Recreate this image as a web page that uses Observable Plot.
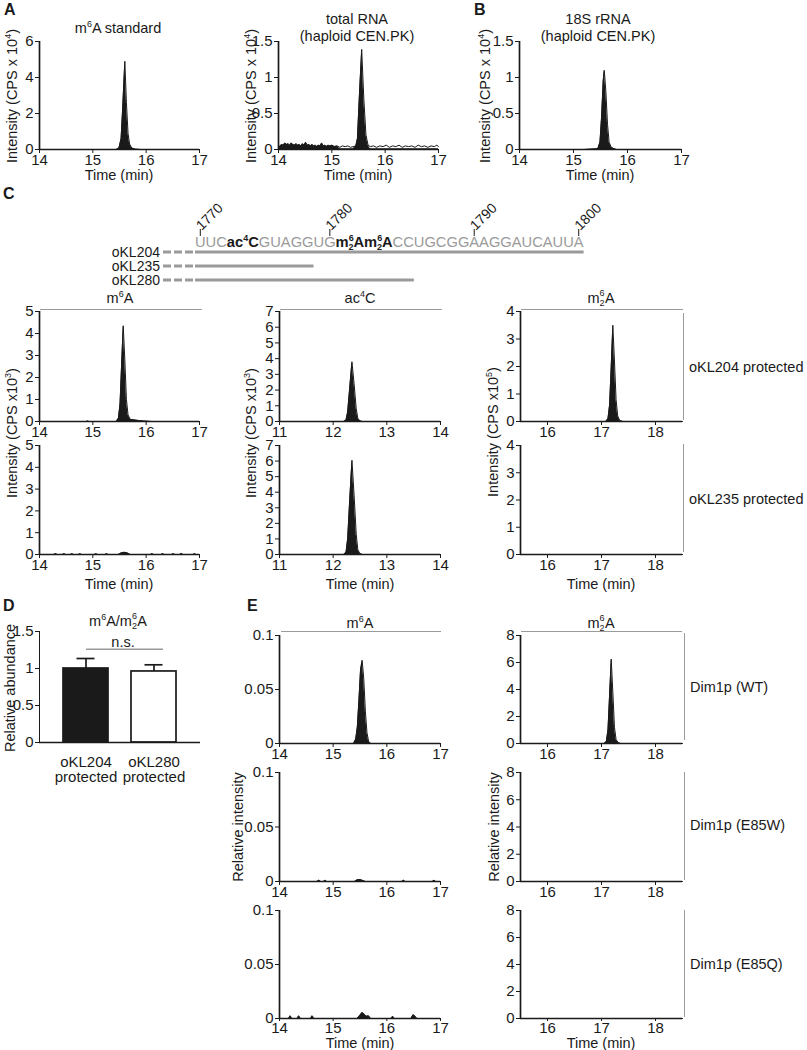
<!DOCTYPE html>
<html><head><meta charset="utf-8">
<script src="https://cdn.jsdelivr.net/npm/d3@7"></script>
<script src="https://cdn.jsdelivr.net/npm/@observablehq/plot@0.6"></script>
<style>
body{margin:0;background:#fff;}
#fig{position:relative;width:807px;height:1050px;overflow:hidden;font-family:"Liberation Sans",Arial,Helvetica,sans-serif;color:#1a1a1a;}
#fig div.o{position:absolute;white-space:nowrap;font-size:14.5px;line-height:1;}
.pl text{font-size:15px;}
.t{transform:translate(-50%,-50%);}
.l{transform:translate(0,-50%);}
.r{transform:translate(-50%,-50%) rotate(-90deg);}
.p{font-weight:bold;font-size:16px !important;}
.hl{position:absolute;height:0;border-top:1.5px solid #9a9a9a;}
.vl{position:absolute;width:0;border-left:1.5px solid #9a9a9a;}
sup{font-size:0.62em;vertical-align:0.6em;line-height:0;}
.stk{display:inline-block;position:relative;width:0.6em;height:0.7em;font-size:0.62em;}
.stk .a{position:absolute;left:0;top:-0.85em;line-height:1;}
.stk .b{position:absolute;left:0;top:0.25em;line-height:1;}
</style></head>
<body><div id="fig"></div>
<script>
// ---------------- data ----------------
// chromatogram traces: [time (min), intensity]
const aStandard = [[14,0],[15.44,0],[15.49,0.08],[15.53,0.6],[15.56,2.3],[15.6,4.9],[15.63,2.6],[15.66,0.9],[15.69,0.3],[15.73,0.08],[15.8,0.02],[15.9,0],[17,0]];
const aTotalRna = [[14.00,0.02],[14.03,0.05],[14.06,0.07],[14.09,0.06],[14.12,0.09],[14.15,0.07],[14.18,0.08],[14.21,0.06],[14.24,0.09],[14.27,0.07],[14.30,0.06],[14.33,0.08],[14.36,0.06],[14.39,0.07],[14.42,0.05],[14.45,0.08],[14.48,0.06],[14.51,0.10],[14.54,0.06],[14.57,0.07],[14.60,0.05],[14.63,0.07],[14.66,0.05],[14.69,0.06],[14.72,0.04],[14.75,0.06],[14.78,0.05],[14.81,0.09],[14.84,0.05],[14.87,0.06],[14.90,0.04],[14.93,0.06],[14.96,0.05],[15.00,0.06],[15.05,0.04],[15.10,0.05],[15.15,0.03],[15.20,0.05],[15.25,0.04],[15.30,0.05],[15.35,0.03],[15.40,0.04],[15.45,0.05],[15.48,0.15],[15.52,0.8],[15.56,1.39],[15.60,0.7],[15.64,0.2],[15.68,0.06],[15.72,0.04],[15.78,0.05],[15.84,0.03],[15.90,0.05],[15.96,0.04],[16.02,0.06],[16.08,0.03],[16.14,0.05],[16.20,0.04],[16.26,0.06],[16.32,0.03],[16.38,0.05],[16.44,0.04],[16.50,0.05],[16.56,0.03],[16.62,0.06],[16.68,0.04],[16.74,0.05],[16.80,0.03],[16.86,0.05],[16.92,0.04],[16.97,0.06],[17.00,0.04]];
const b18S = [[14,0],[15.2,0],[15.45,0.01],[15.49,0.1],[15.52,0.45],[15.55,0.95],[15.57,1.1],[15.6,0.8],[15.63,0.35],[15.66,0.1],[15.7,0.03],[15.75,0.01],[15.8,0],[17,0]];
const cM6A204 = [[14,0],[14.88,0],[14.9,0.02],[14.93,0],[15.44,0],[15.48,0.15],[15.51,0.8],[15.54,2.6],[15.57,4.35],[15.6,2.8],[15.63,1.0],[15.66,0.3],[15.7,0.1],[15.75,0.08],[15.85,0.05],[15.95,0.02],[16.1,0],[17,0]];
const cM6A235 = [[14,0],[14.27,0],[14.3,0.04],[14.33,0],[14.43,0],[14.46,0.04],[14.49,0],[14.58,0],[14.61,0.03],[14.64,0],[14.73,0],[14.76,0.03],[14.79,0],[15.03,0],[15.06,0.03],[15.09,0],[15.23,0],[15.26,0.03],[15.29,0],[15.48,0],[15.53,0.07],[15.59,0.1],[15.65,0.07],[15.7,0],[16.08,0],[16.11,0.04],[16.14,0],[16.28,0],[16.31,0.04],[16.34,0],[16.48,0],[16.51,0.04],[16.54,0],[16.63,0],[16.66,0.05],[16.69,0],[16.88,0],[16.91,0.03],[16.94,0],[17,0]];
const cAc4C204 = [[11,0],[12.2,0],[12.24,0.1],[12.27,0.6],[12.31,2.2],[12.35,3.8],[12.39,2.4],[12.43,0.8],[12.46,0.2],[12.5,0.03],[12.55,0],[14,0]];
const cAc4C235 = [[11,0],[12.2,0],[12.24,0.15],[12.27,1.0],[12.31,3.6],[12.35,6.05],[12.39,3.8],[12.43,1.3],[12.46,0.3],[12.5,0.05],[12.55,0],[14,0]];
const cM62A204 = [[15.5,0],[17.08,0],[17.12,0.1],[17.15,0.6],[17.18,2.0],[17.21,3.5],[17.24,2.2],[17.27,0.8],[17.3,0.2],[17.34,0.03],[17.4,0],[18.5,0]];
const cM62A235 = [[15.5,0],[18.5,0]];
const eM6AWT = [[14,0],[15.38,0],[15.42,0.004],[15.45,0.015],[15.48,0.04],[15.51,0.068],[15.54,0.077],[15.57,0.06],[15.6,0.03],[15.63,0.01],[15.66,0.002],[15.7,0],[17,0]];
const eM6AE85W = [[14,0],[14.7,0],[14.73,0.0012],[14.77,0],[14.82,0],[14.85,0.0012],[14.88,0],[15.4,0],[15.45,0.0015],[15.5,0.0018],[15.55,0.001],[15.6,0],[16.28,0],[16.31,0.0012],[16.34,0],[16.85,0],[16.88,0.0012],[16.91,0],[17,0]];
const eM6AE85Q = [[14,0],[14.17,0],[14.2,0.0025],[14.23,0],[14.33,0],[14.36,0.0025],[14.39,0],[14.58,0],[14.61,0.0025],[14.64,0],[15.45,0],[15.5,0.003],[15.54,0.0055],[15.58,0.004],[15.62,0.002],[15.66,0.0025],[15.7,0],[16.08,0],[16.11,0.002],[16.14,0],[16.45,0],[16.49,0.0035],[16.53,0.002],[16.56,0],[17,0]];
const eM62AWT = [[15.5,0],[17.05,0],[17.09,0.15],[17.12,1.0],[17.15,3.6],[17.18,6.25],[17.21,3.8],[17.24,1.2],[17.27,0.3],[17.31,0.05],[17.36,0],[18.5,0]];
const eM62AE85W = [[15.5,0],[18.5,0]];
const eM62AE85Q = [[15.5,0],[18.5,0]];

// axis ticks
const ticksT14 = [14,15,16,17];
const ticksT11 = [11,12,13,14];
const ticksT16 = [16,17,18];
const ticksY6 = [0,2,4,6];
const ticksY15 = [0,0.5,1,1.5];
const ticksY5 = [0,1,2,3,4,5];
const ticksY7 = [0,1,2,3,4,5,6,7];
const ticksY4 = [0,1,2,3,4];
const ticksY01 = [0,0.05,0.1];
const ticksY8 = [0,2,4,6,8];

// panel D bar chart
const dNames = ["oKL204","oKL280"];
const dMeans = [1.0, 0.96];
const dErrs = [0.135, 0.09];
const dNsLevel = 1.26;

// panel C sequence diagram
const seqStart = 1770;
const seqBases = "UUCCGUAGGUGAACCUGCGGAAGGAUCAUUA";
const seqMods = {1773: ["ac","4","","C"], 1781: ["m","6","2","A"], 1782: ["m","6","2","A"]};
const seqTicks = [1770,1780,1790,1800];
const oligoNames = ["oKL204","oKL235","oKL280"];
const oligoEnds = [1800,1778,1784];

// ---------------- drawing ----------------
const FONT = "'Liberation Sans', Arial, Helvetica, sans-serif";
const INK = "#1a1a1a";
const GRAY = "#9a9a9a";
const fig = document.getElementById("fig");

function place(svg, left, top) {
  svg.classList.add("pl");
  svg.style.position = "absolute";
  svg.style.left = left + "px";
  svg.style.top = top + "px";
  fig.appendChild(svg);
}

function chrom(o) {
  const ml = 46, mr = 8, mt = 8, mb = 24;
  const fillY = o.fillY || (d => d[1]);
  const svg = Plot.plot({
    width: o.w + ml + mr, height: o.h + mt + mb,
    marginLeft: ml, marginRight: mr, marginTop: mt, marginBottom: mb,
    style: {fontFamily: FONT, fontSize: "15px", color: INK, background: "transparent", overflow: "visible"},
    x: {domain: o.x, ticks: o.xt, tickFormat: d => String(d), tickSize: o.xts ?? 4, tickPadding: o.xpad ?? 1, label: null},
    y: {domain: o.y, ticks: o.yt, tickFormat: d => String(d), tickSize: 4, tickPadding: 2, label: null},
    marks: [
      Plot.areaY(o.data, {x: d => d[0], y: fillY, fill: INK}),
      Plot.lineY(o.data, {x: d => d[0], y: d => d[1], stroke: INK, strokeWidth: 1}),
      Plot.ruleY([0], {stroke: INK, strokeWidth: 1.7}),
      Plot.ruleX([o.x[0]], {stroke: INK, strokeWidth: 1.7})
    ]
  });
  place(svg, o.left - ml, o.top - mt);
}

// Panel A / B
chrom({left: 39, top: 41, w: 160, h: 108, x: [14,17], xt: ticksT14, y: [0,6], yt: ticksY6, data: aStandard});
chrom({left: 278, top: 41, w: 160, h: 108, x: [14,17], xt: ticksT14, y: [0,1.5], yt: ticksY15, data: aTotalRna,
  fillY: d => (d[0] < 15.12 || (d[0] > 15.44 && d[0] < 15.72)) ? d[1] : 0.012});
chrom({left: 519, top: 41, w: 162, h: 108, x: [14,17], xt: ticksT14, y: [0,1.5], yt: ticksY15, data: b18S});

// Panel C
chrom({left: 39, top: 311, w: 160, h: 110, x: [14,17], xt: ticksT14, y: [0,5], yt: ticksY5, data: cM6A204});
chrom({left: 39, top: 445, w: 160, h: 109, x: [14,17], xt: ticksT14, y: [0,5], yt: ticksY5, data: cM6A235});
chrom({left: 279, top: 311, w: 161, h: 110, x: [11,14], xt: ticksT11, y: [0,7], yt: ticksY7, data: cAc4C204});
chrom({left: 279, top: 445, w: 161, h: 109, x: [11,14], xt: ticksT11, y: [0,7], yt: ticksY7, data: cAc4C235});
chrom({left: 520, top: 311, w: 162, h: 110, x: [15.5,18.5], xt: ticksT16, y: [0,4], yt: ticksY4, data: cM62A204});
chrom({left: 520, top: 445, w: 162, h: 109, x: [15.5,18.5], xt: ticksT16, y: [0,4], yt: ticksY4, data: cM62A235});

// Panel E
chrom({left: 279, top: 635, w: 161, h: 108, x: [14,17], xt: ticksT14, y: [0,0.1], yt: ticksY01, data: eM6AWT});
chrom({left: 279, top: 772, w: 161, h: 109, x: [14,17], xt: ticksT14, y: [0,0.1], yt: ticksY01, data: eM6AE85W});
chrom({left: 279, top: 910, w: 161, h: 108, x: [14,17], xt: ticksT14, y: [0,0.1], yt: ticksY01, data: eM6AE85Q, xts: 3, xpad: 1});
chrom({left: 520, top: 635, w: 162, h: 108, x: [15.5,18.5], xt: ticksT16, y: [0,8], yt: ticksY8, data: eM62AWT});
chrom({left: 520, top: 772, w: 162, h: 109, x: [15.5,18.5], xt: ticksT16, y: [0,8], yt: ticksY8, data: eM62AE85W});
chrom({left: 520, top: 910, w: 162, h: 108, x: [15.5,18.5], xt: ticksT16, y: [0,8], yt: ticksY8, data: eM62AE85Q, xts: 3, xpad: 1});

// Panel D
{
  const ml = 46, mr = 8, mt = 8, mb = 50;
  const dData = dNames.map((n, i) => ({name: n, mean: dMeans[i], err: dErrs[i]}));
  const svg = Plot.plot({
    width: 161 + ml + mr, height: 111 + mt + mb,
    marginLeft: ml, marginRight: mr, marginTop: mt, marginBottom: mb,
    style: {fontFamily: FONT, fontSize: "15px", color: INK, background: "transparent", overflow: "visible"},
    x: {domain: dNames, padding: 0.34, tickSize: 0, tickPadding: 14, tickFormat: d => d + "\nprotected", label: null},
    y: {domain: [0,1.5], ticks: ticksY15, tickFormat: d => String(d), tickSize: 4, tickPadding: 2, label: null, line: true},
    color: {domain: dNames, range: [INK, "#ffffff"]},
    marks: [
      Plot.ruleY([dNsLevel], {x1: () => dNames[0], x2: () => dNames[1], insetLeft: 23, insetRight: 13, stroke: GRAY, strokeWidth: 1.7}),
      Plot.ruleX(dData, {x: "name", y1: "mean", y2: d => d.mean + d.err, stroke: INK, strokeWidth: 1.7}),
      Plot.ruleY(dData, {x1: "name", x2: "name", y: d => d.mean + d.err, insetLeft: 13.5, insetRight: 13.5, stroke: INK, strokeWidth: 1.7}),
      Plot.barY(dData, {x: "name", y: "mean", fill: "name", stroke: INK, strokeWidth: 1.7}),
      Plot.ruleY([0], {stroke: INK, strokeWidth: 1.7})
    ]
  });
  place(svg, 39 - ml, 631 - mt);
}

// Sequence diagram (panel C top)
{
  const top = 180;
  const s = d3.create("svg").attr("width", 807).attr("height", 110)
    .style("position", "absolute").style("left", "0px").style("top", top + "px").style("overflow", "visible");
  fig.appendChild(s.node());
  const T = s.append("text").attr("x", 195).attr("y", 246.5 - top)
    .attr("font-size", 14.7).attr("font-family", FONT);
  let idx = 0;
  const spans = [];
  for (let i = 0; i < seqBases.length; i++) {
    const pos = seqStart + i;
    const mod = seqMods[pos];
    if (!mod) {
      T.append("tspan").attr("fill", GRAY).text(seqBases[i]);
      spans.push(idx); idx += 1;
    } else {
      const [pre, sup, sub, main] = mod;
      const b = (t) => T.append("tspan").attr("fill", INK).attr("font-weight", "bold").text(t);
      b(pre); idx += pre.length;
      b(sup).attr("font-size", 9).attr("dy", -5.5); idx += 1;
      if (sub) {
        b(sub).attr("font-size", 9).attr("dx", -5.2).attr("dy", 9); idx += 1;
        b(main).attr("dy", -3.5);
      } else {
        b(main).attr("dy", 5.5);
      }
      spans.push(idx); idx += 1;
    }
  }
  const tn = T.node();
  const startX = (i) => tn.getStartPositionOfChar(spans[i]).x;
  const endX = (i) => tn.getEndPositionOfChar(spans[i]).x;
  const cX = (i) => (startX(i) + endX(i)) / 2;
  const seqLeft = 195;
  for (const p of seqTicks) {
    const cx = cX(p - seqStart);
    s.append("line").attr("x1", cx).attr("x2", cx).attr("y1", 229 - top).attr("y2", 236 - top)
      .attr("stroke", INK).attr("stroke-width", 1);
    s.append("text").attr("transform", `translate(${cx + 1.5},${231 - top}) rotate(-45)`)
      .attr("font-size", 14).attr("font-family", FONT).attr("fill", INK).text(String(p));
  }
  const lineYs = [252, 266, 280];
  oligoNames.forEach((n, k) => {
    const y = lineYs[k] - top;
    const x2 = endX(oligoEnds[k] - seqStart);
    s.append("line").attr("x1", seqLeft - 32).attr("x2", seqLeft - 2).attr("y1", y).attr("y2", y)
      .attr("stroke", GRAY).attr("stroke-width", 3).attr("stroke-dasharray", "8,3");
    s.append("line").attr("x1", seqLeft).attr("x2", x2).attr("y1", y).attr("y2", y)
      .attr("stroke", GRAY).attr("stroke-width", 3);
    s.append("text").attr("x", seqLeft - 35).attr("y", y).attr("text-anchor", "end")
      .attr("dominant-baseline", "central").attr("font-size", 14).attr("font-family", FONT)
      .attr("fill", INK).text(n);
  });
}

// ---------------- text & decorations ----------------
function txt(html, x, y, cls) {
  const d = document.createElement("div");
  d.className = "o " + cls;
  d.innerHTML = html;
  d.style.left = x + "px";
  d.style.top = y + "px";
  fig.appendChild(d);
}
function hl(x1, x2, y) {
  const d = document.createElement("div");
  d.className = "hl"; d.style.left = x1 + "px"; d.style.width = (x2 - x1) + "px"; d.style.top = y + "px";
  fig.appendChild(d);
}
function vl(x, y1, y2) {
  const d = document.createElement("div");
  d.className = "vl"; d.style.left = x + "px"; d.style.top = y1 + "px"; d.style.height = (y2 - y1) + "px";
  fig.appendChild(d);
}
const M62A = 'm<span class="stk"><span class="a">6</span><span class="b">2</span></span>A';

// panel letters
txt("A", 4, 2, "p"); txt("B", 474, 2, "p"); txt("C", 3, 186, "p"); txt("D", 3, 598, "p"); txt("E", 247, 598, "p");

// A, B
txt("m<sup>6</sup>A standard", 118, 28, "t");
txt("total RNA", 357, 19, "t"); txt("(haploid CEN.PK)", 357, 36, "t");
txt("18S rRNA", 598, 19, "t"); txt("(haploid CEN.PK)", 598, 36, "t");
txt("Intensity (CPS x 10<sup>4</sup>)", 12, 96, "r");
txt("Intensity (CPS x 10<sup>4</sup>)", 251, 96, "r");
txt("Intensity (CPS x 10<sup>4</sup>)", 485, 96, "r");
txt("Time (min)", 119, 175, "t"); txt("Time (min)", 358, 175, "t"); txt("Time (min)", 600, 175, "t");

// C
txt("m<sup>6</sup>A", 120, 298, "t"); txt("ac<sup>4</sup>C", 360, 298, "t"); txt(M62A, 601, 298, "t");
hl(40, 202, 309); hl(280, 442, 309); hl(521, 683, 309);
vl(683, 313, 420); vl(683, 444, 552);
txt("oKL204 protected", 689, 367, "l"); txt("oKL235 protected", 689, 499, "l");
txt("Intensity (CPS x10<sup>3</sup>)", 12, 433, "r");
txt("Intensity (CPS x10<sup>3</sup>)", 251, 433, "r");
txt("Intensity (CPS x10<sup>5</sup>)", 493, 432, "r");
txt("Time (min)", 119, 584, "t"); txt("Time (min)", 360, 584, "t"); txt("Time (min)", 601, 584, "t");

// D
txt("m<sup>6</sup>A/" + M62A, 118, 621, "t");
txt("n.s.", 123, 642, "t");
txt("Relative abundance", 10, 688, "r");

// E
txt("m<sup>6</sup>A", 360, 623, "t"); txt(M62A, 601, 623, "t");
hl(281, 441, 631); hl(521, 682, 631);
vl(684, 633, 740); vl(684, 772, 880); vl(684, 910, 1017);
txt("Dim1p (WT)", 690, 687, "l"); txt("Dim1p (E85W)", 690, 825, "l"); txt("Dim1p (E85Q)", 690, 964, "l");
txt("Relative intensity", 238, 827, "r"); txt("Relative intensity", 494, 827, "r");
txt("Time (min)", 360, 1043, "t"); txt("Time (min)", 601, 1043, "t");
</script>
</body></html>
